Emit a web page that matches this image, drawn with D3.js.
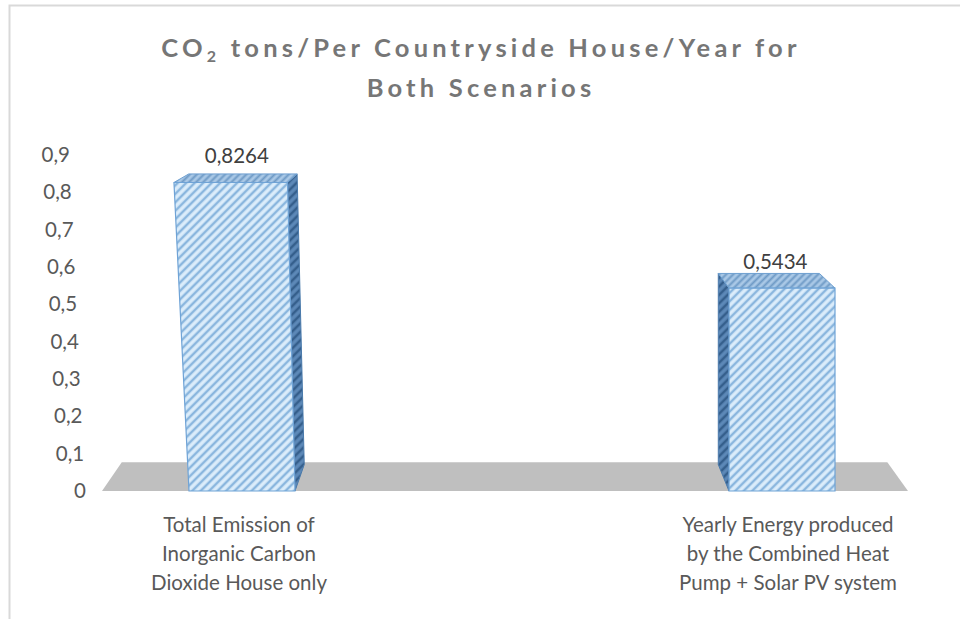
<!DOCTYPE html>
<html>
<head>
<meta charset="utf-8">
<script src="https://cdn.jsdelivr.net/npm/d3@7"></script>
<style>
  html, body { margin: 0; padding: 0; background: #fff; }
  svg { display: block; }
</style>
</head>
<body>
<svg id="chart" width="960" height="619"></svg>
<script>
// ---- data ----
const categories = [
  ["Total Emission of", "Inorganic Carbon", "Dioxide House only"],
  ["Yearly Energy produced", "by the Combined Heat", "Pump + Solar PV system"]
];
const values = [0.8264, 0.5434];
const yTicks = [0, 0.1, 0.2, 0.3, 0.4, 0.5, 0.6, 0.7, 0.8, 0.9];
const titleLines = ["CO|2| tons/Per Countryside House/Year for", "Both Scenarios"];

// ---- setup ----
const W = 960, H = 619;
const svg = d3.select("#chart");
const FONT = "Lato, 'Open Sans', sans-serif";
const locale = d3.formatLocale({ decimal: ",", thousands: ".", grouping: [3], currency: ["", "€"] });
const tickFmt = locale.format(".1~f");
const valFmt = locale.format(".4f");

// value scale along the front plane
const y = d3.scaleLinear().domain([0, 0.9]).range([491, 155]);
const y0 = y(0);
// category positions along the front edge of the floor
const x = d3.scalePoint().domain(d3.range(categories.length)).range([242, 782]);
const barW = 106;
// horizontal extent of the floor
const floorX = d3.scaleLinear().domain([0, 1]).range([102, 908]);
// slanted anchor of the value labels
const tickX = d3.scaleLinear().domain([0, 0.9]).range([86, 70]);

// 3D projection helpers
const VX = 496, YH = 35, KX = 0.046, KY = 0.058;
function depth(p, z) {
  return [p[0] + z * KX * (VX - p[0]), p[1] - z * KY * (p[1] - YH)];
}
const LC = 2.31e-4, LV = 400;
function lean(px, py) {
  return px + LC * (y0 - py) * Math.min(0, px - LV);
}
const pts = arr => arr.map(p => p.join(",")).join(" ");

// ---- frame ----
svg.append("path")
  .attr("d", `M9.5,${H} L9.5,5.5 L${W},5.5`)
  .attr("fill", "none").attr("stroke", "#d9d9d9").attr("stroke-width", 2);

// ---- patterns ----
const defs = svg.append("defs");
function stripes(id, bg, fg, size, sw) {
  const p = defs.append("pattern").attr("id", id)
    .attr("patternUnits", "userSpaceOnUse")
    .attr("width", size).attr("height", size)
    .attr("patternTransform", "rotate(45)");
  p.append("rect").attr("width", size).attr("height", size).attr("fill", bg);
  p.append("line").attr("x1", size / 2).attr("y1", 0).attr("x2", size / 2).attr("y2", size)
    .attr("stroke", fg).attr("stroke-width", sw);
}
stripes("frontHatch", "#dcedfb", "#8ab6de", 6, 2.5);
stripes("sideHatch", "#5d89b8", "#355f8c", 6, 2.6);
stripes("topHatch", "#a9c8e6", "#6f9bc6", 5, 2);

// ---- floor ----
const fl = [[floorX(0), y0], [floorX(1), y0]];
const floorZ = 1.09;
svg.append("polygon")
  .attr("points", pts([fl[0], fl[1], depth(fl[1], floorZ), depth(fl[0], floorZ)]))
  .attr("fill", "#bfbfbf");

// ---- bars ----
const bars = svg.append("g").selectAll("g").data(values).join("g");
bars.each(function (v, i) {
  const g = d3.select(this);
  const X = x(i), yv = y(v);
  const BL = [X - barW / 2, y0], BR = [X + barW / 2, y0];
  const TL = [lean(BL[0], yv), yv], TR = [lean(BR[0], yv), yv];
  const side = X < VX ? [BR, TR, depth(TR, 1), depth(BR, 1)]
                      : [BL, TL, depth(TL, 1), depth(BL, 1)];
  g.append("polygon").attr("points", pts(side))
    .attr("fill", "url(#sideHatch)").attr("stroke", "#4a7aab").attr("stroke-width", 1);
  g.append("polygon").attr("points", pts([TL, TR, depth(TR, 1), depth(TL, 1)]))
    .attr("fill", "url(#topHatch)").attr("stroke", "#6d9fd0").attr("stroke-width", 1);
  g.append("polygon").attr("points", pts([BL, BR, TR, TL]))
    .attr("fill", "url(#frontHatch)").attr("stroke", "#6fa3d6").attr("stroke-width", 1.2);

  // value label above the top face
  const bTL = depth(TL, 1), bTR = depth(TR, 1);
  const cx = (TL[0] + TR[0] + bTL[0] + bTR[0]) / 4;
  g.append("text")
    .attr("x", cx).attr("y", yv - 19)
    .attr("text-anchor", "middle")
    .attr("font-family", FONT).attr("font-size", 20.5)
    .attr("fill", "#404040")
    .text(valFmt(v));
});

// ---- value axis labels ----
svg.append("g").selectAll("text").data(yTicks).join("text")
  .attr("x", d => tickX(d))
  .attr("y", d => y(d) + 7)
  .attr("text-anchor", "end")
  .attr("font-family", FONT).attr("font-size", 20.5)
  .attr("fill", "#595959")
  .text(d => tickFmt(d));

// ---- category labels ----
const cat = svg.append("g").selectAll("text").data(categories).join("text")
  .attr("text-anchor", "middle")
  .attr("font-family", FONT).attr("font-size", 20.5)
  .attr("fill", "#595959");
cat.selectAll("tspan").data((d, i) => d.map(t => ({ t, i }))).join("tspan")
  .attr("x", d => x(d.i) + (d.i ? 6 : -3))
  .attr("y", (d, j) => 532 + j * 29)
  .text(d => d.t);

// ---- title ----
const title = svg.append("text")
  .attr("text-anchor", "middle")
  .attr("font-family", FONT).attr("font-size", 25.5).attr("font-weight", 700)
  .attr("letter-spacing", 4.2)
  .attr("fill", "#767676");
titleLines.forEach((line, li) => {
  const parts = line.split("|");
  const ty = 57 + li * 40;
  parts.forEach((part, pi) => {
    const ts = title.append("tspan").text(part);
    if (pi === 0) ts.attr("x", 481).attr("y", ty);
    if (pi === 1) ts.attr("font-size", 16).attr("dy", 5);
    if (pi === 2) ts.attr("dy", -5);
  });
});
</script>
</body>
</html>
